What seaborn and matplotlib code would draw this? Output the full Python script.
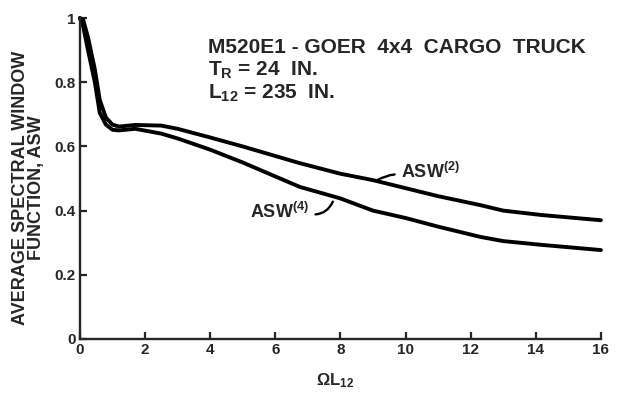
import matplotlib
matplotlib.use("Agg")
import matplotlib.pyplot as plt
import seaborn as sns
import pandas as pd

# values
omega_l = [0.0, 0.1, 0.25, 0.46, 0.61, 0.8, 1.0, 1.2, 1.7, 2.5, 3.0, 4.0, 5.0,
           6.75, 8.0, 9.0, 10.0, 11.0, 12.3, 13.0, 14.2, 16.0]
asw2 = [1.0, 0.995, 0.94, 0.84, 0.745, 0.69, 0.668, 0.662, 0.667, 0.665, 0.655,
        0.628, 0.60, 0.548, 0.515, 0.495, 0.47, 0.445, 0.417, 0.40, 0.386, 0.37]
asw4 = [1.0, 0.975, 0.90, 0.80, 0.705, 0.668, 0.652, 0.650, 0.655, 0.64, 0.625,
        0.59, 0.55, 0.474, 0.438, 0.40, 0.377, 0.35, 0.318, 0.305, 0.293, 0.277]
x_ticks = [0, 2, 4, 6, 8, 10, 12, 14, 16]
y_ticks = [0, 0.2, 0.4, 0.6, 0.8, 1.0]
y_tick_labels = ["0", "0.2", "0.4", "0.6", "0.8", "1"]

sns.set_style("ticks")
plt.rcParams["font.family"] = ["Liberation Sans", "DejaVu Sans"]
plt.rcParams["font.weight"] = "bold"
plt.rcParams["mathtext.fontset"] = "custom"
plt.rcParams["mathtext.rm"] = "Liberation Sans:bold"
plt.rcParams["mathtext.bf"] = "Liberation Sans:bold"
plt.rcParams["mathtext.it"] = "Liberation Sans:bold"

df = pd.DataFrame({"x": omega_l * 2,
                   "y": asw2 + asw4,
                   "curve": ["ASW2"] * len(omega_l) + ["ASW4"] * len(omega_l)})

fig = plt.figure(figsize=(6.24, 4.03), dpi=100)
ax = fig.add_axes([0.128, 0.159, 0.835, 0.796])

sns.lineplot(data=df, x="x", y="y", units="curve", estimator=None, color="black",
             linewidth=2.8, ax=ax, clip_on=False)

ax.set_xlim(0, 16)
ax.set_ylim(0, 1.0)
ax.set_xticks(x_ticks)
ax.set_xticklabels([str(t) for t in x_ticks], fontsize=11, fontweight="heavy")
ax.set_yticks(y_ticks)
ax.set_yticklabels(y_tick_labels, fontsize=11, fontweight="heavy")
ax.tick_params(direction="in", length=5, width=1.6, pad=3)
sns.despine(ax=ax)
for s in ["left", "bottom"]:
    ax.spines[s].set_linewidth(1.7)

ax.set_xlabel(r"$\Omega$L$_{12}$", fontsize=12, fontweight="bold")
ax.xaxis.set_label_coords(0.49, -0.10)
ax.set_ylabel("AVERAGE SPECTRAL WINDOW\nFUNCTION, ASW", fontsize=13,
              fontweight="bold", linespacing=0.95)
ax.yaxis.set_label_coords(-0.067, 0.47)

ax.text(3.93, 0.891, "M520E1 - GOER  4x4  CARGO  TRUCK", fontsize=15,
        fontweight="bold", va="baseline")
ax.text(3.93, 0.822, r"T$_{\mathrm{R}}$ = 24  IN.", fontsize=15,
        fontweight="bold", va="baseline")
ax.text(3.93, 0.748, r"L$_{12}$ = 235  IN.", fontsize=15,
        fontweight="bold", va="baseline")

ax.annotate(r"ASW$^{(2)}$", xy=(9.05, 0.49), xytext=(9.85, 0.52),
            fontsize=13, fontweight="bold", ha="left", va="center",
            arrowprops=dict(arrowstyle="-", color="black", lw=1.7,
                            relpos=(0, 0.4), connectionstyle="arc3,rad=0.15"))
ax.annotate(r"ASW$^{(4)}$", xy=(7.8, 0.436), xytext=(7.05, 0.395),
            fontsize=13, fontweight="bold", ha="right", va="center",
            arrowprops=dict(arrowstyle="-", color="black", lw=1.7,
                            relpos=(1, 0.4), connectionstyle="arc3,rad=0.4"))

fig.savefig("out.png", dpi=100)
